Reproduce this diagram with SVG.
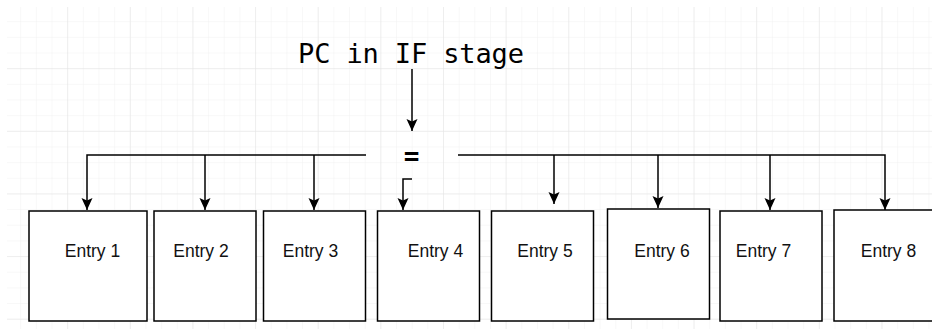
<svg xmlns="http://www.w3.org/2000/svg" width="932" height="329" viewBox="0 0 932 329">
  <style>
    .box { fill: #ffffff; stroke: #000000; stroke-width: 1.5; }
    .lbl { font-family: "Liberation Sans", Arial, sans-serif; font-size: 17.5px; fill: #111111; text-anchor: middle; }
    .mono { font-family: "DejaVu Sans Mono", "Liberation Mono", monospace; fill: #000000; }
    .wire { fill: none; stroke: #000000; stroke-width: 1.5; }
    .arr { marker-end: url(#ah); }
  </style>
  <defs>
    <pattern id="minor" patternUnits="userSpaceOnUse" x="5.5" y="6.5" width="15.66" height="15.66">
      <path d="M15.66,0 V15.66 M0,15.66 H15.66" fill="none" stroke="#f1f1f1" stroke-width="1"/>
    </pattern>
    <pattern id="major" patternUnits="userSpaceOnUse" x="5.5" y="6.5" width="62.64" height="62.64">
      <path d="M62.64,0 V62.64 M0,62.64 H62.64" fill="none" stroke="#e3e3e3" stroke-width="1"/>
    </pattern>
    <marker id="ah" markerUnits="userSpaceOnUse" markerWidth="13" markerHeight="13" viewBox="0 0 13 13" refX="12" refY="6.5" orient="auto">
      <path d="M0,1 L12,6.5 L0,12 L2.5,6.5 Z" fill="#000000"/>
    </marker>
  </defs>
  <rect width="932" height="329" fill="#ffffff"/>
  <rect x="7" y="7" width="925" height="322" fill="url(#minor)"/>
  <rect x="7" y="7" width="925" height="322" fill="url(#major)"/>

  <g id="title">
    <text class="mono" x="298" y="63" font-size="27" textLength="226" lengthAdjust="spacing">PC in IF stage</text>
  </g>
  <g id="comparator">
    <text class="mono" x="411.5" y="165" font-size="26" font-weight="bold" text-anchor="middle">=</text>
  </g>

  <g id="connectors">
    <path class="wire arr" d="M412,69 V131"/>
    <path class="wire arr" d="M366,155 H87 V210"/>
    <path class="wire arr" d="M205,155 V210"/>
    <path class="wire arr" d="M314,155 V210"/>
    <path class="wire arr" d="M412,179 H403 V210"/>
    <path class="wire arr" d="M458,155 H885 V210"/>
    <path class="wire arr" d="M554,155 V204"/>
    <path class="wire arr" d="M658,155 V208"/>
    <path class="wire arr" d="M770,155 V210"/>
  </g>

  <g id="entry1"><rect class="box" x="29" y="211" width="118" height="110"/><text class="lbl" x="92.5" y="257">Entry 1</text></g>
  <g id="entry2"><rect class="box" x="154" y="211" width="102" height="110"/><text class="lbl" x="201" y="257">Entry 2</text></g>
  <g id="entry3"><rect class="box" x="263.5" y="211" width="102" height="110"/><text class="lbl" x="310.5" y="257">Entry 3</text></g>
  <g id="entry4"><rect class="box" x="377.5" y="211" width="102" height="110"/><text class="lbl" x="435.5" y="257">Entry 4</text></g>
  <g id="entry5"><rect class="box" x="491.5" y="211" width="102" height="110"/><text class="lbl" x="545" y="257">Entry 5</text></g>
  <g id="entry6"><rect class="box" x="607.5" y="209" width="102" height="110"/><text class="lbl" x="662" y="257">Entry 6</text></g>
  <g id="entry7"><rect class="box" x="720" y="211" width="102" height="110"/><text class="lbl" x="763.5" y="257">Entry 7</text></g>
  <g id="entry8"><rect class="box" x="834" y="210" width="110" height="111"/><text class="lbl" x="888.5" y="257">Entry 8</text></g>
</svg>
